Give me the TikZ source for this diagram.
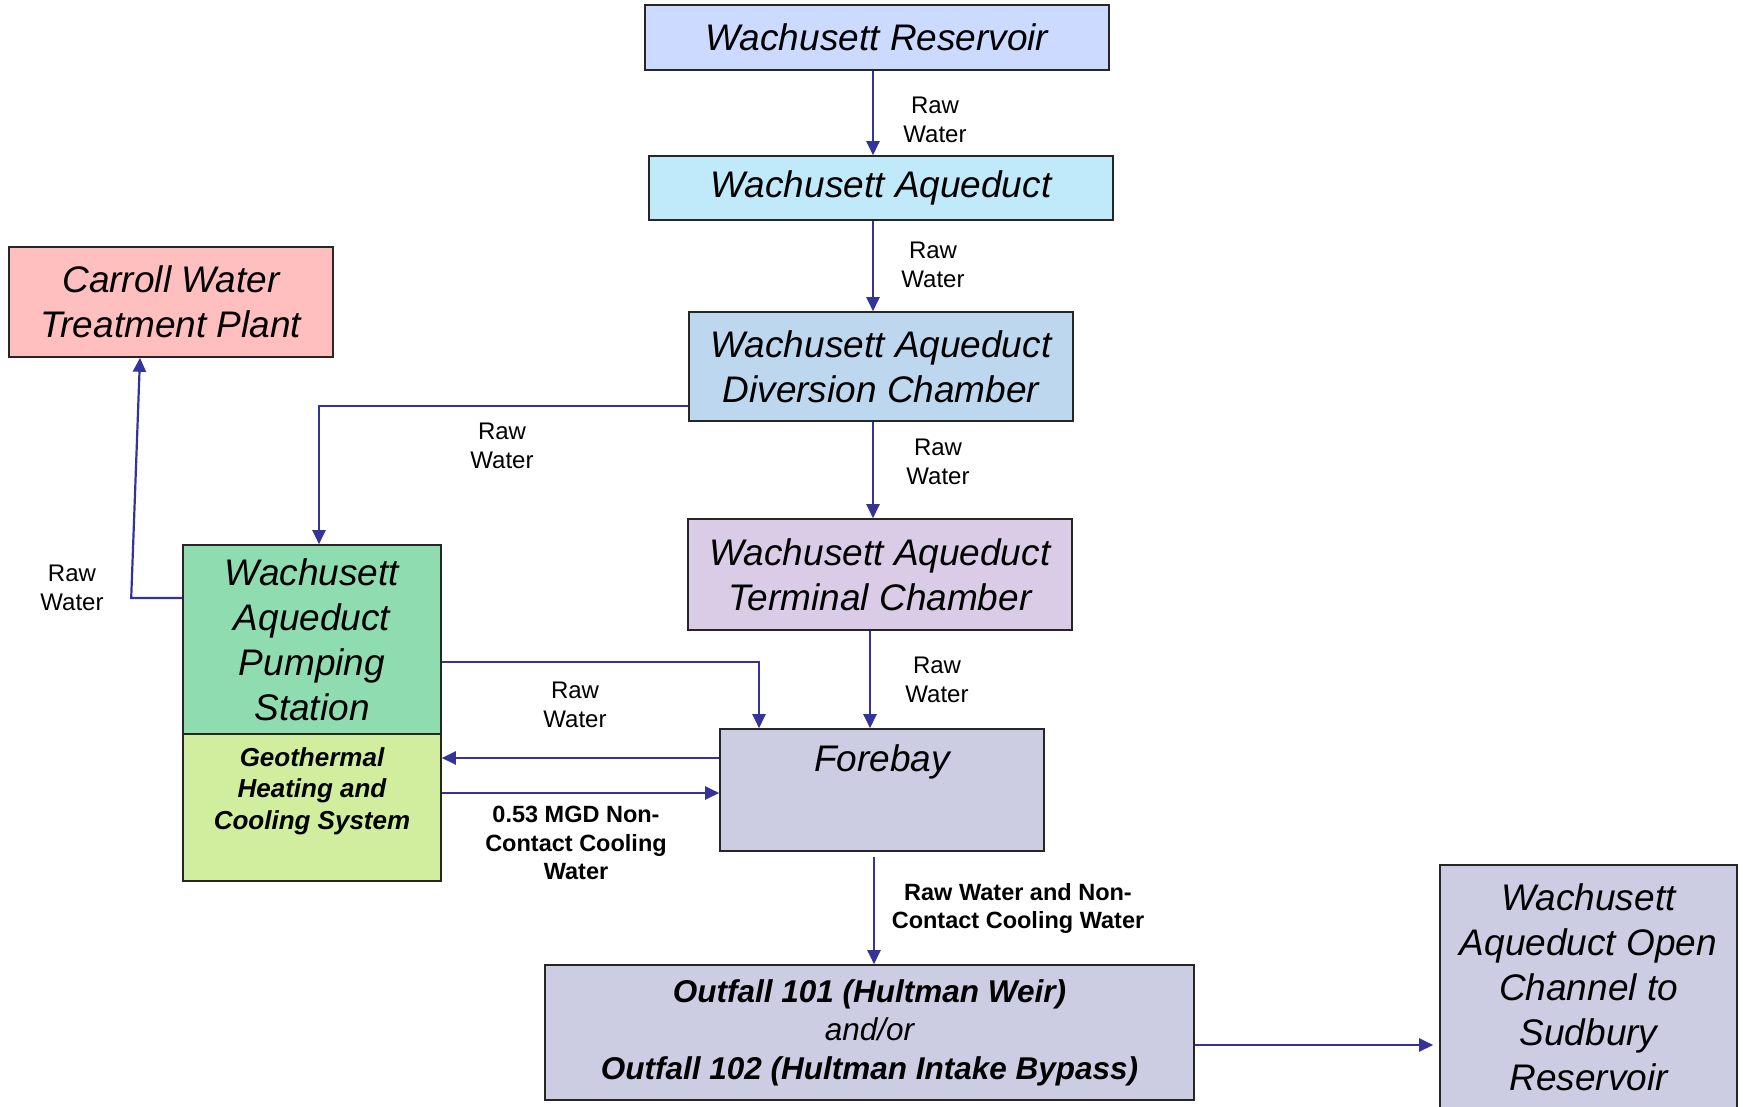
\documentclass[tikz,border=0pt]{standalone}
\usepackage{fontspec}
\setmainfont{Liberation Sans}
\usetikzlibrary{arrows.meta}
\definecolor{flowblue}{RGB}{51,51,153}
\definecolor{reservoirfill}{RGB}{204,218,255}
\definecolor{aqueductfill}{RGB}{192,234,250}
\definecolor{diversionfill}{RGB}{189,215,238}
\definecolor{terminalfill}{RGB}{218,204,230}
\definecolor{forebayfill}{RGB}{204,204,226}
\definecolor{carrollfill}{RGB}{255,191,191}
\definecolor{pumpfill}{RGB}{143,220,176}
\definecolor{geofill}{RGB}{208,238,158}
\tikzset{
	box/.style = {
		shape=rectangle,
		draw=black!85,
		line width=1.6pt,
		inner sep=0pt,
		align=center,
		font=\fontsize{37}{45}\selectfont\itshape
	},
	boxtext/.style = {align=center, font=\fontsize{37}{45}\selectfont\itshape},
	geotext/.style = {align=center, font=\fontsize{26}{31.5}\selectfont\bfseries\itshape},
	flow/.style = {draw=flowblue, line width=2.2pt, -{Triangle[length=14pt,width=13pt]}},
	note/.style = {align=center, font=\fontsize{24}{29}\selectfont},
	boldnote/.style = {align=center, font=\fontsize{23.5}{28.5}\selectfont\bfseries}
}
\begin{document}
\begin{tikzpicture}[x=1pt,y=-1pt]
	\clip (0,0) rectangle (1743,1106);
	% main column
	\node[box, fill=reservoirfill, minimum width=464pt, minimum height=65pt] (reservoir) at (877,37.5) {Wachusett Reservoir};
	\node[box, fill=aqueductfill, minimum width=464pt, minimum height=64pt] (aqueduct) at (881,188) {Wachusett Aqueduct};
	\node[box, fill=diversionfill, minimum width=384pt, minimum height=109pt] (diversion) at (881,366.5) {Wachusett Aqueduct\\Diversion Chamber};
	\node[box, fill=terminalfill, minimum width=384pt, minimum height=111pt] (terminal) at (880,574.5) {Wachusett Aqueduct\\Terminal Chamber};
	\node[box, fill=forebayfill, minimum width=324pt, minimum height=122pt] (forebay) at (882,790) {};
	\node[boxtext] (forebay-text) at (882,762) {Forebay};
	\node[box, fill=forebayfill, minimum width=649pt, minimum height=135pt,
		font=\fontsize{31.5}{38.5}\selectfont\bfseries\itshape] (outfall) at (869.5,1032.5)
		{Outfall 101 (Hultman Weir)\\{\mdseries and/or}\\Outfall 102 (Hultman Intake Bypass)};
	\node[box, fill=forebayfill, minimum width=297pt, minimum height=245pt] (channel) at (1588.5,987.5)
		{Wachusett\\Aqueduct Open\\Channel to\\Sudbury\\Reservoir};
	% left side
	\node[box, fill=carrollfill, minimum width=324pt, minimum height=110pt] (carroll) at (171,302) {Carroll Water\\Treatment Plant};
	\node[box, fill=pumpfill, minimum width=258pt, minimum height=189pt] (pumping) at (312,639.5) {Wachusett\\Aqueduct\\Pumping\\Station};
	\node[box, fill=geofill, minimum width=258pt, minimum height=147pt] (geothermal) at (312,807.5) {};
	\node[geotext] (geothermal-text) at (312,791) {Geothermal\\Heating and\\Cooling System};

	% connectors
	\draw[flow] ([xshift=-4pt]reservoir.south) -- ([xshift=-4pt]reservoir.south |- aqueduct.north);
	\draw[flow] ([xshift=-8pt]aqueduct.south) -- ([xshift=-8pt]aqueduct.south |- diversion.north);
	\draw[flow] ([xshift=-8pt]diversion.south) -- ([xshift=-8pt]diversion.south |- terminal.north);
	\draw[flow] ([xshift=-10pt]terminal.south) -- ([xshift=-10pt]terminal.south |- forebay.north);
	\draw[flow] ([yshift=-39.5pt]diversion.west) -| ([xshift=7pt]pumping.north);
	\draw[flow] ([yshift=41.5pt]pumping.west) -- ++(-51pt,0) -- ([xshift=-31pt]carroll.south);
	\draw[flow] ([yshift=-22.5pt]pumping.east) -| ([xshift=-123pt]forebay.north);
	\draw[flow] ([yshift=32pt]forebay.west) -- ([yshift=32pt]forebay.west -| geothermal.east);
	\draw[flow] ([yshift=14.5pt]geothermal.east) -- ([yshift=14.5pt]geothermal.east -| forebay.west);
	\draw[flow] ([xshift=-8pt,yshift=-5pt]forebay.south) -- ([xshift=-8pt]forebay.south |- outfall.north);
	\draw[flow, shorten >=6pt] ([yshift=-12.5pt]outfall.east) -- ([yshift=-12.5pt]outfall.east -| channel.west);

	% labels
	\node[note] (raw1) at (935,120) {Raw\\Water};
	\node[note] (raw2) at (933,265) {Raw\\Water};
	\node[note] (raw3) at (938,462) {Raw\\Water};
	\node[note] (raw4) at (937,680) {Raw\\Water};
	\node[note] (raw5) at (502,446) {Raw\\Water};
	\node[note] (raw6) at (72,588) {Raw\\Water};
	\node[note] (raw7) at (575,705) {Raw\\Water};
	\node[boldnote] (cooling) at (576,843) {0.53 MGD Non-\\Contact Cooling\\Water};
	\node[boldnote] (mixed) at (1018,908.5) {Raw Water and Non-\\Contact Cooling Water};
\end{tikzpicture}
\end{document}
